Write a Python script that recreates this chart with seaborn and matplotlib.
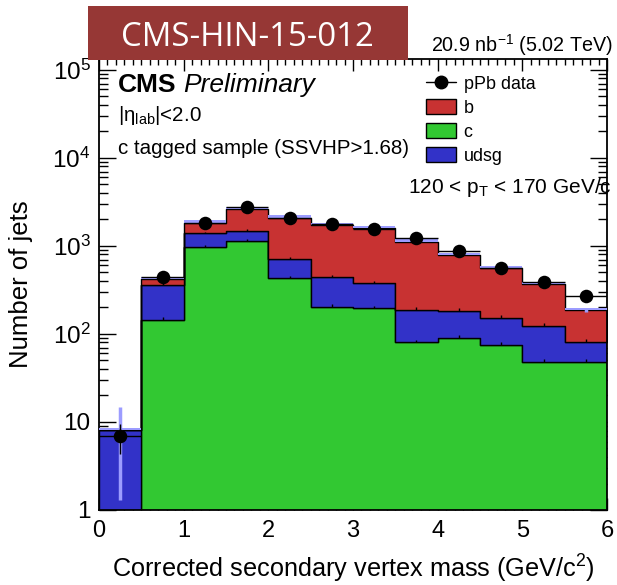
import numpy as np
import pandas as pd
import matplotlib
matplotlib.use("Agg")
import matplotlib.pyplot as plt
from matplotlib.patches import Rectangle, Patch
from matplotlib.lines import Line2D
from matplotlib.ticker import FixedLocator, FixedFormatter, MultipleLocator, LogLocator, NullFormatter
import seaborn as sns

# ---------------- data ----------------
bin_edges = [0.0, 0.5, 1.0, 1.5, 2.0, 2.5, 3.0, 3.5, 4.0, 4.5, 5.0, 5.5, 6.0]
bin_centers = [0.25, 0.75, 1.25, 1.75, 2.25, 2.75, 3.25, 3.75, 4.25, 4.75, 5.25, 5.75]
c_counts = [0, 145, 985, 1150, 430, 204, 196, 80, 91, 74, 48, 48]
udsg_counts = [8.1, 215, 409, 345, 282, 237, 181, 107, 92, 79, 76, 34]
b_counts = [0, 58, 446, 1119, 1388, 1292, 1209, 932, 607, 404, 243, 105]
data_counts = [6.9, 448, 1811, 2797, 2100, 1765, 1546, 1244, 885, 567, 393, 272]
data_errors = [2.6, 21, 43, 53, 46, 42, 39, 35, 30, 24, 20, 16]
mc_errors = [6.8, 14, 60, 90, 70, 60, 55, 40, 30, 20, 14, 9]
c_top_errors = [0, 9, 45, 55, 25, 13, 13, 6, 7, 6, 4, 4]
udsg_top_errors = [0.4, 21, 60, 60, 42, 28, 24, 14, 13, 11, 9, 6]
flavours = ["b", "udsg", "c"]
legend_labels = ["pPb data", "b", "c", "udsg"]
ytick_values = [1, 10, 100, 1000, 10000, 100000]
ytick_labels = ["1", "10", "$10^{2}$", "$10^{3}$", "$10^{4}$", "$10^{5}$"]
xtick_values = [0, 1, 2, 3, 4, 5, 6]
xtick_labels = ["0", "1", "2", "3", "4", "5", "6"]

colors = {"b": "#C83232", "c": "#32C832", "udsg": "#3232C8"}
band_color = "#9c9cff"

# ---------------- style ----------------
sns.set_style("ticks")
plt.rcParams["font.family"] = ["Liberation Sans", "DejaVu Sans"]
plt.rcParams["mathtext.fontset"] = "custom"
plt.rcParams["mathtext.rm"] = "Liberation Sans"
plt.rcParams["mathtext.it"] = "Liberation Sans:italic"
plt.rcParams["mathtext.bf"] = "Liberation Sans:bold"
plt.rcParams["text.color"] = "black"
plt.rcParams["axes.labelcolor"] = "black"
plt.rcParams["xtick.color"] = "black"
plt.rcParams["ytick.color"] = "black"
plt.rcParams["axes.edgecolor"] = "black"

W, H = 617, 585
fig = plt.figure(figsize=(W / 100, H / 100), dpi=100)

def fx(x):
    return x / W

def fy(y):
    return 1 - y / H

ax_left, ax_right, ax_top, ax_bottom = 99, 607, 59, 510
ax = fig.add_axes([fx(ax_left), fy(ax_bottom), (ax_right - ax_left) / W, (ax_bottom - ax_top) / H])

# long-form table
rows = []
for name, vals in zip(["c", "udsg", "b"], [c_counts, udsg_counts, b_counts]):
    for xc, v in zip(bin_centers, vals):
        rows.append({"mass": xc, "count": v, "flavour": name})
df = pd.DataFrame(rows)

sns.histplot(data=df, x="mass", weights="count", hue="flavour", hue_order=flavours,
             bins=bin_edges, multiple="stack", element="step", fill=True,
             palette=colors, edgecolor="black", linewidth=1.0, alpha=1,
             legend=False, ax=ax)

ax.set_yscale("log")

c_arr = np.array(c_counts, dtype=float)
cu_arr = c_arr + np.array(udsg_counts)
total = cu_arr + np.array(b_counts)

# small per-layer error ticks at bin centres
ax.errorbar(bin_centers, c_arr, yerr=[np.zeros(len(c_arr)), c_top_errors], fmt="none",
            ecolor="black", elinewidth=1.0, capsize=0, zorder=3)
ax.errorbar(bin_centers, cu_arr, yerr=[np.zeros(len(cu_arr)), udsg_top_errors], fmt="none",
            ecolor="black", elinewidth=1.0, capsize=0, zorder=3)

# MC uncertainty: thin band on top of the stack and light vertical bars
ax.bar(bin_centers, total * 0.065, bottom=total, width=0.5,
       color=band_color, edgecolor="none", zorder=3)
ax.errorbar(bin_centers, total, yerr=mc_errors, fmt="none",
            ecolor=band_color, elinewidth=2.5, capsize=0, zorder=3.5)

# data points
ax.errorbar(bin_centers, data_counts, xerr=0.25, yerr=data_errors, fmt="none",
            ecolor="black", elinewidth=1.0, capsize=0, zorder=4)
sns.scatterplot(x=bin_centers, y=data_counts, ax=ax, color="black", s=95,
                edgecolor="black", linewidth=0, zorder=5, legend=False)

ax.set_xlim(0, 6)
ax.set_ylim(1, 1.33e5)

# ticks
ax.xaxis.set_major_locator(FixedLocator(xtick_values))
ax.xaxis.set_major_formatter(FixedFormatter(xtick_labels))
ax.xaxis.set_minor_locator(MultipleLocator(0.1))
ax.yaxis.set_major_locator(FixedLocator(ytick_values))
ax.yaxis.set_major_formatter(FixedFormatter(ytick_labels))
ax.yaxis.set_minor_locator(LogLocator(base=10, subs=np.arange(2, 10), numticks=20))
ax.yaxis.set_minor_formatter(NullFormatter())
ax.tick_params(axis="x", which="major", direction="in", top=True, bottom=True,
               length=8.5, width=1.0, labelsize=17, pad=7, colors="black")
ax.tick_params(axis="x", which="minor", direction="in", top=True, bottom=True,
               length=4.3, width=1.0, colors="black")
ax.tick_params(axis="y", which="major", direction="in", left=True, right=True,
               length=12, width=1.0, labelsize=17.5, pad=6, colors="black")
ax.tick_params(axis="y", which="minor", direction="in", left=True, right=True,
               length=6.5, width=1.0, colors="black")
for s in ax.spines.values():
    s.set_linewidth(1.3)
    s.set_color("black")
    s.set_visible(True)

ax.set_xlabel("Corrected secondary vertex mass (GeV/c$^{2}$)", fontsize=18.2, color="black")
ax.set_ylabel("Number of jets", fontsize=18.5, color="black")
ax.xaxis.set_label_coords(0.5, -0.094)
ax.yaxis.set_label_coords(-0.13, 0.5)

# legend
handles = [
    Line2D([0], [0], color="black", lw=1, marker="o", markersize=9),
    Patch(facecolor=colors["b"], edgecolor="black", linewidth=1),
    Patch(facecolor=colors["c"], edgecolor="black", linewidth=1),
    Patch(facecolor=colors["udsg"], edgecolor="black", linewidth=1),
]
fig.legend(handles, legend_labels, loc="upper left", bbox_to_anchor=(fx(426), fy(75)),
           frameon=False, fontsize=12.9, borderpad=0, borderaxespad=0,
           handlelength=1.7, handleheight=0.9, handletextpad=0.4, labelspacing=0.36,
           labelcolor="black")

# texts
fig.text(fx(118), fy(92), "CMS", fontsize=19, fontweight="bold", va="baseline", ha="left", color="black")
fig.text(fx(183), fy(92), "Preliminary", fontsize=19, fontstyle="italic", va="baseline", ha="left", color="black")
fig.text(fx(118), fy(121), r"|$\mathrm{\eta}_{\mathrm{lab}}$|<2.0", fontsize=14.8, va="baseline", ha="left", color="black")
fig.text(fx(118), fy(154), "c tagged sample (SSVHP>1.68)", fontsize=14.8, va="baseline", ha="left", color="black")
fig.text(fx(612), fy(193), r"120 < p$_{\mathrm{T}}$ < 170 GeV/c", fontsize=15, va="baseline", ha="right", color="black")
fig.text(fx(613), fy(52), r"20.9 nb$^{-1}$ (5.02 TeV)", fontsize=14.2, va="baseline", ha="right", color="black")

# title box
fig.patches.append(Rectangle((fx(88), fy(60)), (408 - 88) / W, (60 - 6) / H,
                             transform=fig.transFigure, facecolor="#963735",
                             edgecolor="none", zorder=10))
fig.text(fx(247), fy(38), "CMS-HIN-15-012", fontsize=23.7, color="white",
         family=["Open Sans", "DejaVu Sans"], ha="center", va="center", zorder=11)

fig.savefig("out.png", dpi=100)
